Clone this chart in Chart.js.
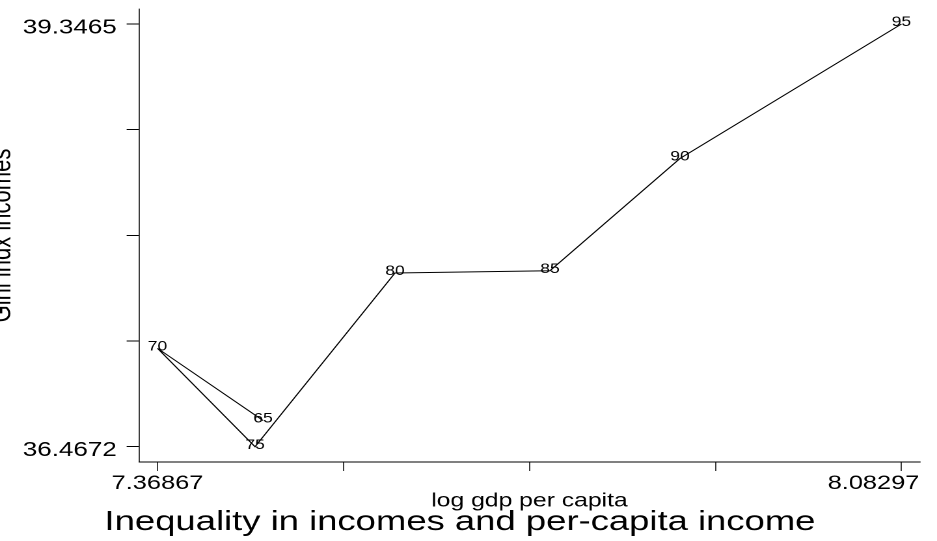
<!DOCTYPE html>
<html>
<head>
<meta charset="utf-8">
<script src="https://cdn.jsdelivr.net/npm/chart.js@4"></script>
<style>
  html, body { margin: 0; padding: 0; background: #ffffff; overflow: hidden; }
  #wrap { width: 720px; height: 541px; transform: scaleX(1.30139); transform-origin: 0 0; }
  canvas { display: block; }
</style>
</head>
<body>
<div id="wrap"><canvas id="c" width="720" height="541"></canvas></div>
<script>
// ---- data ----
const years = ['65', '70', '75', '80', '85', '90', '95'];
const logGdp = [7.4700, 7.36867, 7.4623, 7.5967, 7.7455, 7.8703, 8.08297];
const gini = [36.6455, 37.1374, 36.4672, 37.6503, 37.6660, 38.4303, 39.3465];
const xTickValues = [7.36867, 7.547245, 7.72582, 7.904395, 8.08297];
const xTickLabels = ['7.36867', '', '', '', '8.08297'];
const yTickValues = [36.4672, 37.187025, 37.90685, 38.626675, 39.3465];
const yTickLabels = ['36.4672', '', '', '', '39.3465'];
const titleText = 'Inequality in incomes and per-capita income';
const xTitle = 'log gdp per capita';
const yTitle = 'Gini indx incomes';

const FONT = "'Liberation Sans', Arial, Helvetica, sans-serif";
const SX = 1.30139; // horizontal stretch of the page

const points = logGdp.map((x, i) => ({ x: x, y: gini[i] }));

const pointLabels = {
  id: 'pointLabels',
  afterDatasetsDraw(chart) {
    const ctx = chart.ctx;
    const meta = chart.getDatasetMeta(0);
    ctx.save();
    ctx.font = '13.5px ' + FONT;
    ctx.fillStyle = '#000';
    ctx.textAlign = 'center';
    ctx.textBaseline = 'middle';
    meta.data.forEach((el, i) => {
      ctx.fillText(years[i], el.x, el.y - 1.5);
    });
    ctx.restore();
  }
};

const shiftLastXLabel = {
  id: 'shiftLastXLabel',
  beforeDraw(chart) {
    const sc = chart.scales.x;
    const items = sc.getLabelItems(chart.chartArea);
    items.forEach(it => {
      if (it.label === xTickLabels[xTickLabels.length - 1]) {
        it.options.translation[0] -= 21.5;
      }
    });
  }
};

function noPad(scale) {
  scale.paddingLeft = 0;
  scale.paddingRight = 0;
  scale.paddingTop = 0;
  scale.paddingBottom = 0;
}

new Chart(document.getElementById('c'), {
  type: 'scatter',
  data: {
    datasets: [{
      data: points,
      showLine: true,
      borderColor: '#000',
      borderWidth: 1,
      pointRadius: 0,
      pointHoverRadius: 0,
      fill: false,
      tension: 0
    }]
  },
  options: {
    responsive: false,
    devicePixelRatio: 2,
    animation: false,
    events: [],
    layout: { padding: { top: 9, right: 13.1, bottom: 0, left: 0 } },
    plugins: {
      legend: { display: false },
      tooltip: { enabled: false },
      title: {
        display: true,
        position: 'bottom',
        text: titleText,
        color: '#000',
        font: { family: FONT, size: 28, weight: 'normal', lineHeight: 1.2 },
        padding: { top: 0, bottom: 2 }
      }
    },
    scales: {
      x: {
        type: 'linear',
        position: 'bottom',
        min: 7.35091,
        max: 8.10073,
        afterBuildTicks(scale) { scale.ticks = xTickValues.map(v => ({ value: v })); },
        afterFit(scale) { scale.height = 43.4; noPad(scale); },
        ticks: {
          autoSkip: false,
          maxRotation: 0,
          minRotation: 0,
          padding: 1,
          color: '#000',
          font: { family: FONT, size: 19.5 },
          callback: (v, i) => xTickLabels[i]
        },
        grid: {
          display: true,
          drawOnChartArea: false,
          drawTicks: true,
          tickLength: 9,
          color: '#000',
          lineWidth: 1 / SX
        },
        border: { display: true, color: '#000', width: 1 },
        title: {
          display: true,
          text: xTitle,
          color: '#000',
          font: { family: FONT, size: 19, lineHeight: 1 },
          padding: { top: 0, bottom: -5.2 }
        }
      },
      y: {
        type: 'linear',
        position: 'left',
        min: 36.3630,
        max: 39.4487,
        afterBuildTicks(scale) { scale.ticks = yTickValues.map(v => ({ value: v })); },
        afterFit(scale) { scale.width = 106.8; noPad(scale); },
        ticks: {
          autoSkip: false,
          padding: 7.5,
          labelOffset: 4,
          color: '#000',
          font: { family: FONT, size: 20 },
          callback: (v, i) => yTickLabels[i]
        },
        grid: {
          display: true,
          drawOnChartArea: false,
          drawTicks: true,
          tickLength: 9.5,
          color: '#000',
          lineWidth: 1
        },
        border: { display: true, color: '#000', width: 1 / SX },
        title: {
          display: true,
          text: yTitle,
          color: '#000',
          font: { family: FONT, size: 22, lineHeight: 1 },
          padding: { top: -9, bottom: 0 }
        }
      }
    }
  },
  plugins: [pointLabels, shiftLastXLabel]
});
</script>
</body>
</html>
